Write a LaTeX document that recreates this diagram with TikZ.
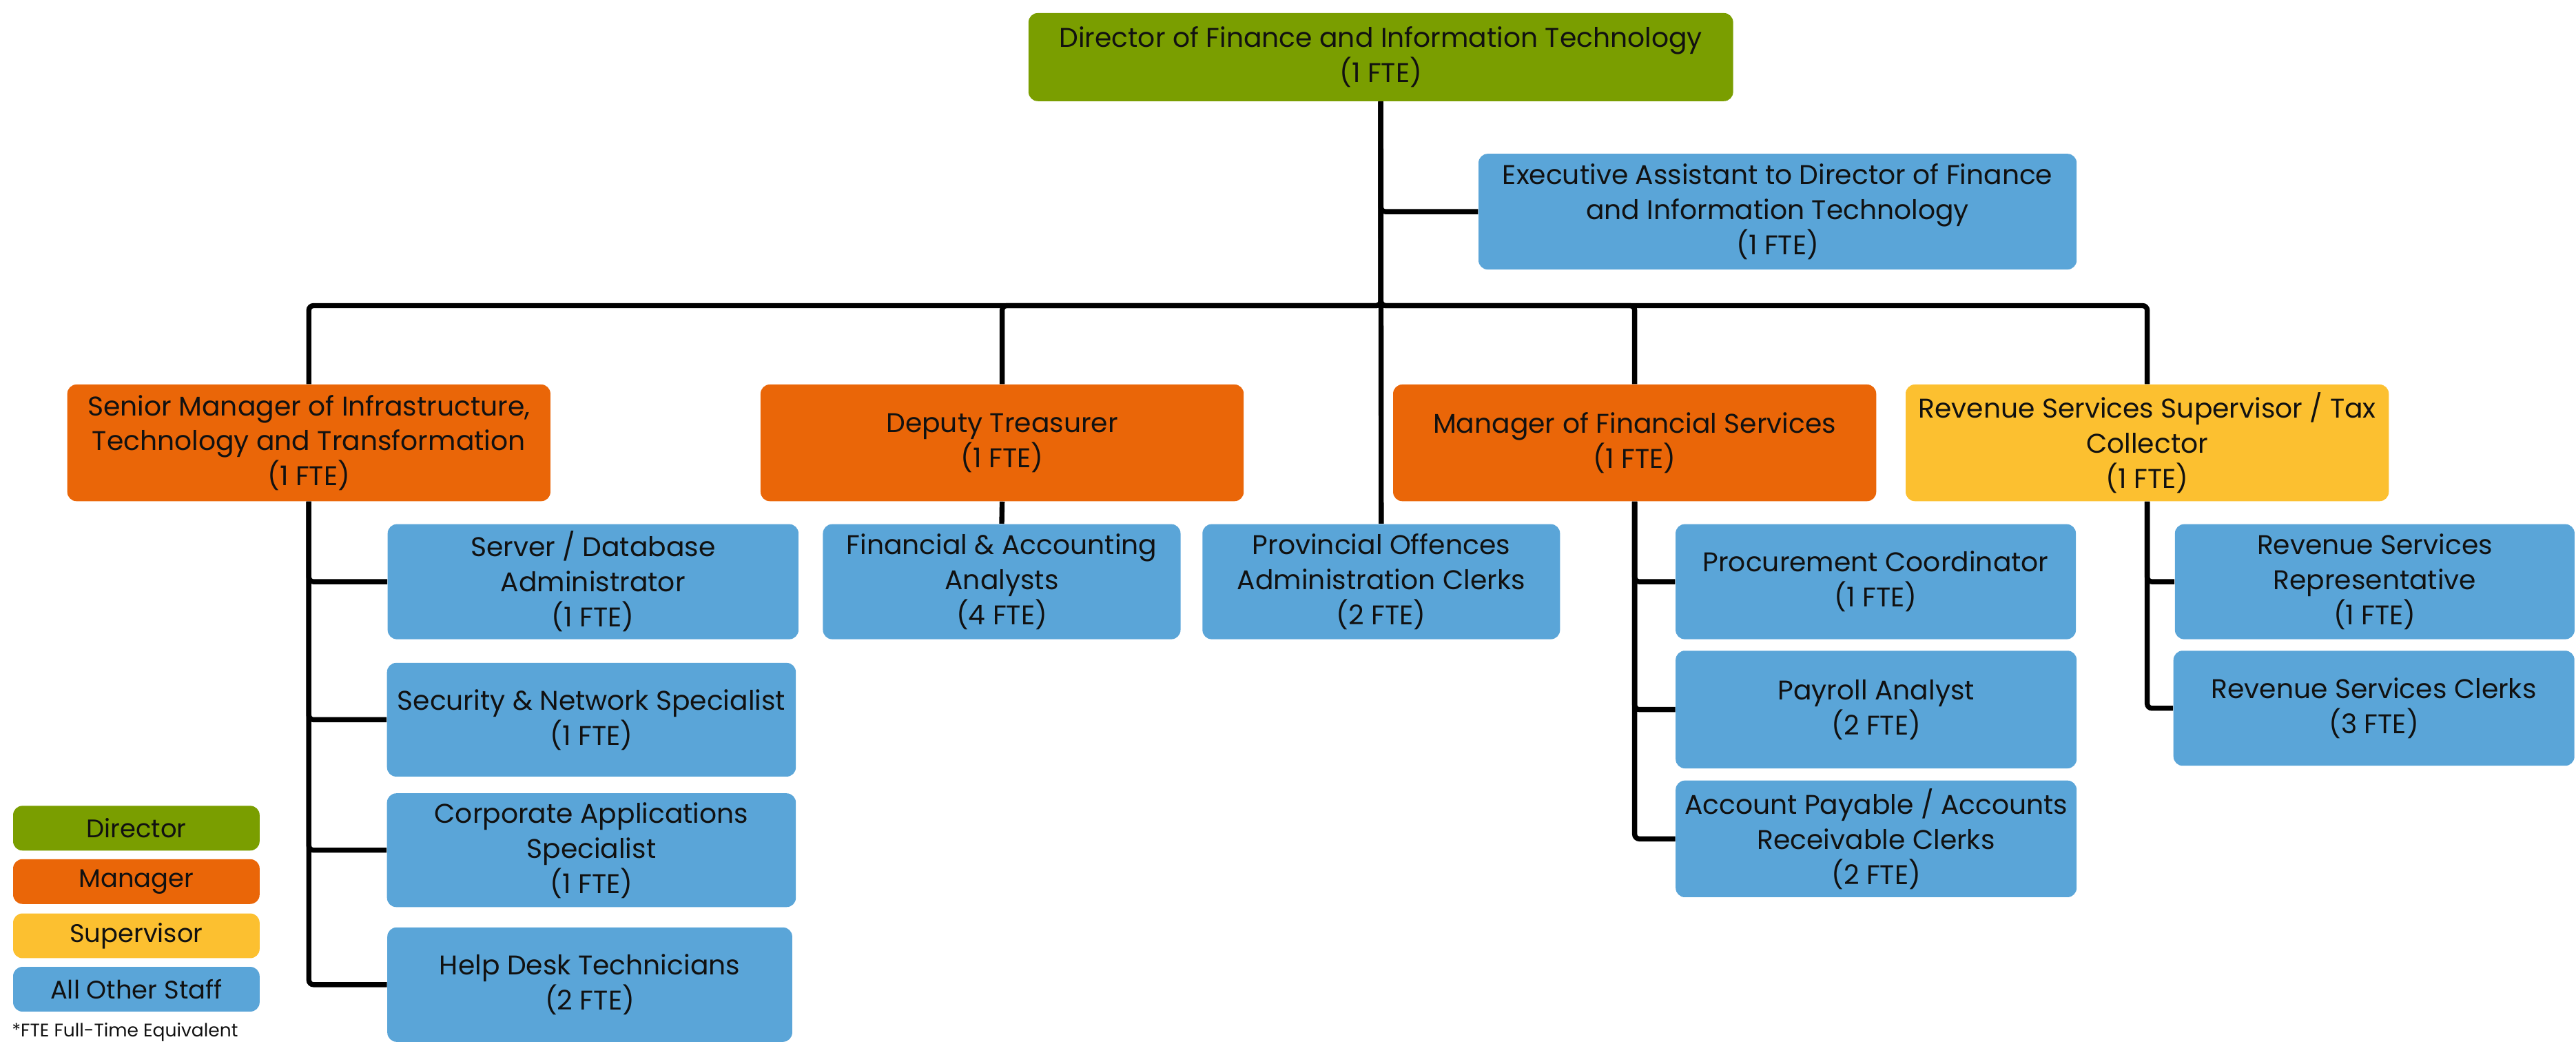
\documentclass[tikz,border=0pt]{standalone}
\usepackage{fontspec}
\setmainfont{Poppins}
\usepackage{xcolor}
\usetikzlibrary{positioning}

\definecolor{dirgreen}{RGB}{122,158,0}
\definecolor{mgrorange}{RGB}{234,102,8}
\definecolor{supyellow}{RGB}{252,192,48}
\definecolor{staffblue}{RGB}{90,165,216}
\definecolor{inkblack}{RGB}{17,17,17}

\begin{document}
\begin{tikzpicture}[x=0.025cm, y=-0.025cm,
	role/.style={rounded corners=4pt, align=center, inner xsep=0pt, inner ysep=2pt,
		text=inkblack, font=\fontsize{11.7}{15.2}\selectfont},
	director/.style={role, fill=dirgreen},
	manager/.style={role, fill=mgrorange, minimum width=7.35cm, minimum height=1.775cm},
	supervisor/.style={role, fill=supyellow, minimum width=7.35cm, minimum height=1.775cm},
	staff/.style={role, fill=staffblue},
	key/.style={role, minimum width=3.75cm, minimum height=0.68cm,
		font=\fontsize{11}{13}\selectfont},
	link/.style={line width=2.2pt, rounded corners=2pt}]

	\useasboundingbox (0,0) rectangle (1568,635);

	%% Director and assistant
	\node[director, minimum width=10.72cm, minimum height=1.34cm] (dir) at (840.5,34.75)
		{Director of Finance and Information Technology\\(1 FTE)};
	\node[staff, minimum width=9.1cm, minimum height=1.76cm] (ea) at (1082,128.8)
		{Executive Assistant to Director of Finance\\and Information Technology\\(1 FTE)};

	%% Managers
	\node[manager] (sm) at (188,269.5)
		{Senior Manager of Infrastructure,\\Technology and Transformation\\(1 FTE)};
	\node[manager] (dt) at (610,269.5) {Deputy Treasurer\\(1 FTE)};
	\node[manager] (mfs) at (995,269.5) {Manager of Financial Services\\(1 FTE)};
	\node[supervisor] (sup) at (1307,269.5)
		{Revenue Services Supervisor / Tax\\Collector\\(1 FTE)};

	%% Staff under senior manager
	\node[staff, minimum width=6.25cm, minimum height=1.75cm] (srv) at (361,354)
		{Server / Database\\Administrator\\(1 FTE)};
	\node[staff, minimum width=6.22cm, minimum height=1.73cm] (sec) at (360,438)
		{Security \& Network Specialist\\(1 FTE)};
	\node[staff, minimum width=6.22cm, minimum height=1.73cm] (cor) at (360,517.4)
		{Corporate Applications\\Specialist\\(1 FTE)};
	\node[staff, minimum width=6.16cm, minimum height=1.74cm] (hlp) at (359,599.2)
		{Help Desk Technicians\\(2 FTE)};

	%% Staff under deputy treasurer and director
	\node[staff, minimum width=5.44cm, minimum height=1.75cm] (fin) at (609.75,354)
		{Financial \& Accounting\\Analysts\\(4 FTE)};
	\node[staff, minimum width=5.44cm, minimum height=1.75cm] (pro) at (840.75,354)
		{Provincial Offences\\Administration Clerks\\(2 FTE)};

	%% Staff under manager of financial services
	\node[staff, minimum width=6.09cm, minimum height=1.75cm] (prc) at (1141.75,354)
		{Procurement Coordinator\\(1 FTE)};
	\node[staff, minimum width=6.1cm, minimum height=1.79cm] (pay) at (1142,431.8)
		{Payroll Analyst\\(2 FTE)};
	\node[staff, minimum width=6.1cm, minimum height=1.775cm] (acc) at (1142,510.5)
		{Account Payable / Accounts\\Receivable Clerks\\(2 FTE)};

	%% Staff under supervisor
	\node[staff, minimum width=6.08cm, minimum height=1.75cm] (rsr) at (1445.5,354)
		{Revenue Services\\Representative\\(1 FTE)};
	\node[staff, minimum width=6.1cm, minimum height=1.75cm] (rsc) at (1445,431)
		{Revenue Services Clerks\\(3 FTE)};

	%% Lines
	\coordinate (bus) at (840.5,186);
	\draw[link] (dir.south) -- (pro.north);
	\draw[link] (dir.south) |- (ea.west);
	\draw[link] (dir.south) -- (bus) -| (sm.north);
	\draw[link] (dir.south) -- (bus) -| (dt.north);
	\draw[link] (dir.south) -- (bus) -| (mfs.north);
	\draw[link] (dir.south) -- (bus) -| (sup.north);

	\draw[link] (dt.south) -- (fin.north);
	\foreach \n in {srv, sec, cor, hlp}
		\draw[link] (sm.south) |- (\n.west);
	\foreach \n in {prc, pay, acc}
		\draw[link] (mfs.south) |- (\n.west);
	\foreach \n in {rsr, rsc}
		\draw[link] (sup.south) |- (\n.west);

	%% Legend
	\node[key, fill=dirgreen] (kdir) at (83,504) {Director};
	\node[key, fill=mgrorange] (kmgr) at (83,536.5) {Manager};
	\node[key, fill=supyellow] (ksup) at (83,569.5) {Supervisor};
	\node[key, fill=staffblue] (kstf) at (83,602) {All Other Staff};
	\node[anchor=west, inner sep=0pt, text=inkblack, font=\fontsize{7.9}{9}\selectfont]
		(fte) at (7,628) {*FTE Full-Time Equivalent};
\end{tikzpicture}
\end{document}
